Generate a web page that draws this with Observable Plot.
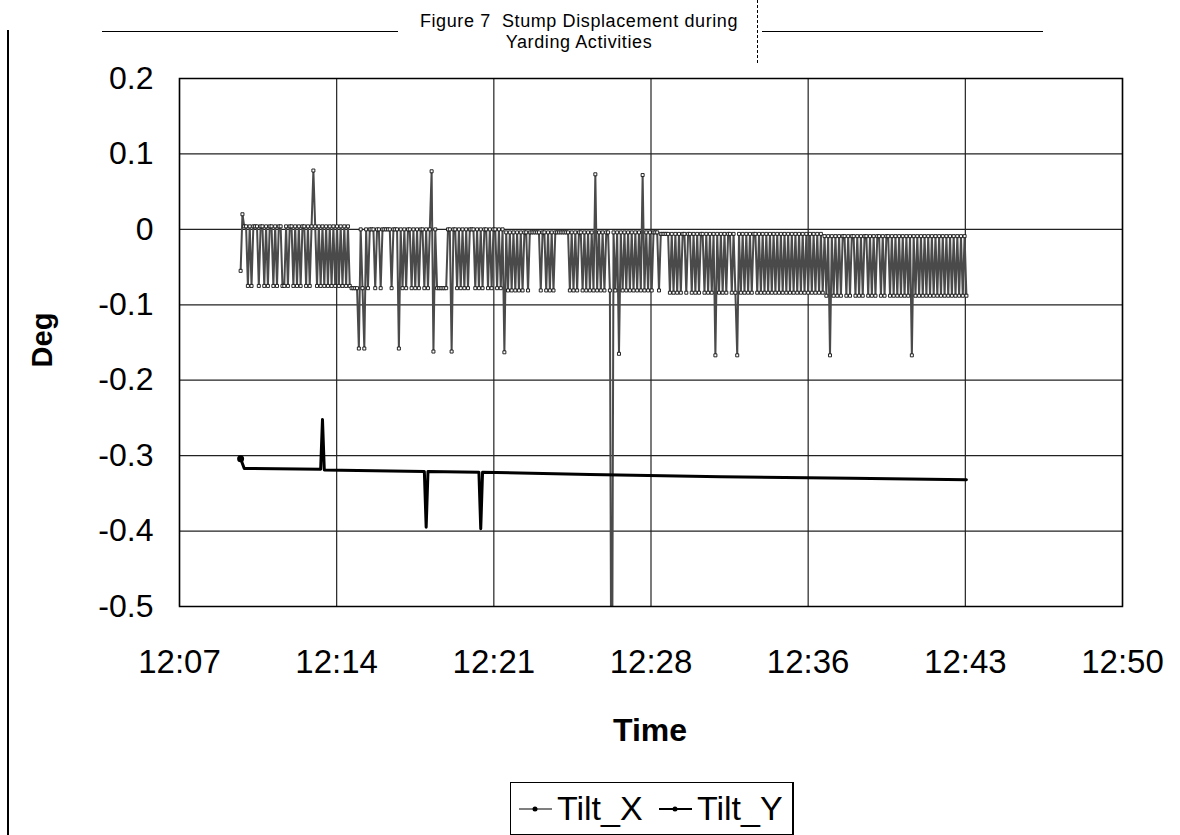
<!DOCTYPE html>
<html><head><meta charset="utf-8">
<script src="https://cdn.jsdelivr.net/npm/d3@7"></script>
<script src="https://cdn.jsdelivr.net/npm/@observablehq/plot@0.6"></script>
<style>
body{margin:0;background:#fff;font-family:"Liberation Sans",Arial,sans-serif;color:#000;}
#wrap{position:relative;width:1180px;height:835px;overflow:hidden;background:#fff;}
#chart{position:absolute;left:0;top:0;}
.abs{position:absolute;}
#title{left:379px;width:400px;top:11px;text-align:center;font-size:18px;line-height:21px;white-space:pre;letter-spacing:0.6px;}
#xlab{left:500px;width:300px;top:712px;text-align:center;font-size:32px;font-weight:bold;}
#ylab{left:-8px;top:322px;width:100px;text-align:center;font-size:29px;font-weight:bold;transform:rotate(-90deg);transform-origin:50% 50%;line-height:36px;}
#legend{left:510px;top:782px;width:281px;height:51px;border:1px solid #000;border-right-width:2px;font-size:34px;white-space:nowrap;}
#legend .it{position:absolute;top:5px;line-height:40px;}
#legend svg{position:absolute;top:20px;}
</style></head>
<body><div id="wrap">
<div class="abs" style="left:7px;top:30px;width:1.5px;height:805px;background:#000"></div>
<div class="abs" style="left:102px;top:31px;width:296px;height:1px;background:#000"></div>
<div class="abs" style="left:762px;top:31px;width:281px;height:1px;background:#000"></div>
<div class="abs" style="left:757px;top:0px;width:0;height:63px;border-left:1px dashed #000"></div>
<div id="chart"></div>
<div id="title" class="abs"></div>
<div id="xlab" class="abs"></div>
<div id="ylab" class="abs"></div>
<div id="legend" class="abs"></div>
</div>
<script>
// ---- data ----
const titleLines = ["Figure 7  Stump Displacement during", "Yarding Activities"];
const xTitle = "Time";
const yTitle = "Deg";
const seriesNames = ["Tilt_X", "Tilt_Y"];
const xDomain = ["12:07:12", "12:50:24"];
const xTicks = ["12:07:12", "12:14:24", "12:21:36", "12:28:48", "12:36:00", "12:43:12", "12:50:24"];
const xTickLabels = ["12:07", "12:14", "12:21", "12:28", "12:36", "12:43", "12:50"];
const yTicks = [-0.5, -0.4, -0.3, -0.2, -0.1, 0, 0.1, 0.2];
const yTickLabels = ["-0.5", "-0.4", "-0.3", "-0.2", "-0.1", "0", "0.1", "0.2"];

// Tilt_X logged every 5 s starting 12:10:00
const tiltXStart = "12:10:00";
const tiltXStepSec = 5;
const tiltX = [
-.055,.020,.004,.004,-.075,.004,-.075,.004,.004,.004,
-.075,.004,.004,-.075,.004,-.075,.004,.004,-.075,.004,
-.075,.004,.004,-.075,-.075,.004,-.075,.004,.004,-.075,
.004,-.075,.004,-.075,.004,.004,-.075,.004,-.075,.004,
.078,.004,-.075,.004,-.075,.004,-.075,.004,-.075,.004,
-.075,.004,-.075,.004,-.075,.004,-.075,.004,-.075,.004,
-.075,-.078,-.078,-.078,-.078,-.158,.000,-.078,-.158,.000,
-.078,.000,.000,.000,-.078,.000,.000,-.078,.000,.000,
.000,.000,.000,-.078,.000,.000,.000,-.158,.000,-.078,
.000,-.078,.000,.000,-.078,.000,-.078,.000,-.078,.000,
.000,-.078,.000,-.078,.000,.077,-.162,.000,-.078,-.078,
-.078,-.078,-.078,-.078,.000,.000,-.162,.000,.000,-.078,
.000,-.078,.000,-.078,.000,-.078,.000,.000,.000,-.078,
.000,-.078,.000,-.078,.000,.000,-.078,.000,-.078,.000,
.000,-.078,.000,-.078,.000,-.163,-.004,-.081,-.004,-.081,
-.004,-.081,-.004,-.081,-.004,-.081,-.004,-.004,-.081,-.004,
-.004,-.004,-.004,-.004,-.004,-.081,-.004,-.004,-.081,-.004,
-.081,-.004,-.081,-.004,-.004,-.004,-.004,-.004,-.004,-.004,
-.004,-.081,-.004,-.081,-.004,-.081,-.004,-.004,-.081,-.004,
-.081,-.004,-.081,-.004,-.081,.073,-.081,-.004,-.081,-.004,
-.081,-.004,-.004,-.081,-.800,-.004,-.081,-.004,-.165,-.004,
-.081,-.004,-.081,-.004,-.081,-.004,-.081,-.004,-.081,-.004,
-.081,.072,-.081,-.004,-.081,-.004,-.081,-.004,-.004,-.004,
-.081,-.006,-.006,-.006,-.006,-.006,-.084,-.006,-.084,-.006,
-.084,-.006,-.084,-.006,-.006,-.084,-.006,-.006,-.084,-.006,
-.084,-.006,-.084,-.006,-.006,-.084,-.006,-.084,-.006,-.084,
-.006,-.167,-.006,-.084,-.006,-.084,-.006,-.084,-.006,-.006,
-.084,-.006,-.084,-.167,-.006,-.084,-.006,-.084,-.006,-.084,
-.006,-.084,-.006,-.006,-.084,-.006,-.084,-.006,-.084,-.006,
-.084,-.006,-.084,-.006,-.084,-.006,-.084,-.006,-.084,-.006,
-.084,-.006,-.084,-.006,-.084,-.006,-.084,-.006,-.084,-.006,
-.084,-.006,-.084,-.006,-.084,-.006,-.084,-.006,-.084,-.006,
-.084,-.009,-.088,-.009,-.167,-.009,-.088,-.009,-.088,-.009,
-.088,-.009,-.009,-.088,-.009,-.088,-.009,-.009,-.088,-.009,
-.088,-.009,-.088,-.009,-.009,-.088,-.009,-.088,-.009,-.088,
-.009,-.009,-.088,-.009,-.088,-.009,-.009,-.088,-.009,-.088,
-.009,-.088,-.009,-.088,-.009,-.088,-.009,-.088,-.009,-.167,
-.009,-.088,-.009,-.088,-.009,-.088,-.009,-.088,-.009,-.088,
-.009,-.088,-.009,-.088,-.009,-.088,-.009,-.088,-.009,-.088,
-.009,-.088,-.009,-.088,-.009,-.088,-.009,-.088,-.009,-.088
];

const tiltYTimes = ["12:10:00","12:10:10","12:13:40","12:13:45","12:13:50","12:18:25","12:18:30","12:18:35","12:20:55","12:21:00","12:21:05","12:26:00","12:32:00","12:38:00","12:43:15"];
const tiltYValues = [-0.304,-0.317,-0.318,-0.252,-0.319,-0.321,-0.395,-0.321,-0.322,-0.397,-0.322,-0.325,-0.328,-0.330,-0.332];

// ---- build ----
const toDate = s => new Date("2000-01-01T" + s + "Z");
const x0 = toDate(tiltXStart).getTime();
const dataX = tiltX.map((v, i) => ({t: new Date(x0 + i * tiltXStepSec * 1000), v}));
const dataY = tiltYTimes.map((s, i) => ({t: toDate(s), v: tiltYValues[i]}));
const xTickDates = xTicks.map(toDate);
const font = '"Liberation Sans", Arial, sans-serif';

const chart = Plot.plot({
  width: 1180, height: 720,
  marginTop: 78, marginLeft: 179, marginRight: 58, marginBottom: 114,
  style: {fontFamily: font, color: "#000", background: "transparent", overflow: "visible"},
  x: {type: "utc", domain: xDomain.map(toDate)},
  y: {domain: [yTicks[0], yTicks[yTicks.length - 1]]},
  marks: [
    Plot.gridX(xTickDates, {stroke: "#222", strokeOpacity: 1, strokeWidth: 1.2}),
    Plot.gridY(yTicks, {stroke: "#222", strokeOpacity: 1, strokeWidth: 1.2}),
    Plot.line(dataX, {x: "t", y: "v", stroke: "#4a4a4a", strokeWidth: 2, clip: true}),
    Plot.dot(dataX, {x: "t", y: "v", r: 1.7, symbol: "square", fill: "white", stroke: "#111", strokeWidth: 0.9, clip: true}),
    Plot.line(dataY, {x: "t", y: "v", stroke: "#000", strokeWidth: 3}),
    Plot.dot(dataY.slice(0, 1), {x: "t", y: "v", r: 3.5, fill: "#000"}),
    Plot.frame({stroke: "#000", strokeWidth: 1.5}),
    Plot.axisX(xTickDates, {tickSize: 0, tickPadding: 43, fontSize: 33, tickFormat: d => xTickLabels[xTickDates.findIndex(t => +t === +d)], label: null}),
    Plot.axisY(yTicks, {tickSize: 0, tickPadding: 26, fontSize: 32, tickFormat: d => yTickLabels[yTicks.indexOf(d)], label: null})
  ]
});
document.getElementById("chart").appendChild(chart);
document.getElementById("title").textContent = titleLines.join("\n");
document.getElementById("xlab").textContent = xTitle;
document.getElementById("ylab").textContent = yTitle;

// legend entries: symbol then name (offsets within the legend box)
const leg = document.getElementById("legend");
const entryLeft = [8, 148];
seriesNames.forEach((name, i) => {
  const sw = i === 0 ? 1.2 : 2;
  leg.insertAdjacentHTML("beforeend",
    `<svg width="33" height="12" style="left:${entryLeft[i]}px"><line x1="0" y1="6" x2="33" y2="6" stroke="#000" stroke-width="${sw}"/><circle cx="16" cy="6" r="2.5" fill="#000"/></svg><span class="it" style="left:${entryLeft[i] + 38}px">${name}</span>`);
});
</script>
</body></html>
